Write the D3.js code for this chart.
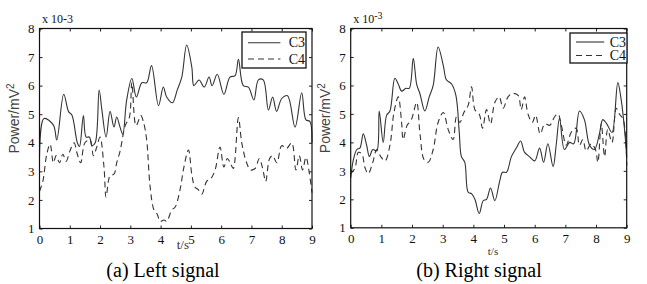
<!DOCTYPE html>
<html><head><meta charset="utf-8">
<script src="https://cdn.jsdelivr.net/npm/d3@7"></script>
<style>body{margin:0;background:#fff;}svg{display:block;}</style>
</head><body>
<svg id="c" width="647" height="284"></svg>
<script>
// ---- data ----
const xTicks = [0,1,2,3,4,5,6,7,8,9];
const yTicks = [1,2,3,4,5,6,7,8];
const seriesNames = ["C3","C4"];
const captions = ["(a) Left signal","(b) Right signal"];

const leftC3 = [[0,3.5],[0.15,4.85],[0.46,4.62],[0.57,4.1],[0.8,5.7],[0.96,5.09],[1.07,4.97],[1.25,4.0],[1.32,3.87],[1.45,4.95],[1.54,4.2],[1.65,4.2],[1.73,3.9],[1.84,4.0],[1.97,5.85],[2.06,5.15],[2.2,4.2],[2.33,5.1],[2.46,4.55],[2.55,4.9],[2.66,4.55],[2.75,4.3],[2.88,5.5],[3.05,6.25],[3.2,5.6],[3.38,6.1],[3.54,6.1],[3.7,6.7],[3.93,5.3],[4.09,5.95],[4.2,5.6],[4.39,5.4],[4.55,5.85],[4.7,6.3],[4.86,7.42],[5.03,6.65],[5.1,6.0],[5.27,6.2],[5.44,5.95],[5.6,6.3],[5.7,6.0],[5.87,6.4],[6.09,5.7],[6.29,6.3],[6.46,6.35],[6.57,6.92],[6.73,6.0],[6.9,5.95],[7.08,5.5],[7.23,6.2],[7.39,6.2],[7.56,5.15],[7.7,5.6],[7.83,5.1],[8.0,5.55],[8.19,5.65],[8.44,4.55],[8.66,5.75],[8.8,4.8],[8.93,4.75],[9,4.0]];
const leftC4 = [[0,2.3],[0.11,2.65],[0.24,3.6],[0.35,3.95],[0.46,3.3],[0.55,3.55],[0.66,3.3],[0.77,3.6],[0.88,3.35],[1.0,3.7],[1.14,4.0],[1.25,3.6],[1.36,3.3],[1.5,4.0],[1.67,4.1],[1.78,3.55],[1.89,3.85],[2.0,4.2],[2.13,3.15],[2.2,2.1],[2.33,2.85],[2.46,2.9],[2.55,3.3],[2.66,3.7],[2.83,4.6],[2.97,4.9],[3.05,6.1],[3.19,4.6],[3.35,4.95],[3.44,4.7],[3.54,4.1],[3.65,2.5],[3.78,1.65],[3.89,1.5],[3.98,1.25],[4.11,1.3],[4.2,1.25],[4.37,1.65],[4.48,1.75],[4.64,2.35],[4.77,3.15],[4.92,3.75],[5.03,2.9],[5.13,2.45],[5.25,2.35],[5.36,2.2],[5.52,2.65],[5.66,2.75],[5.8,3.05],[5.96,3.85],[6.09,3.15],[6.2,3.45],[6.3,3.3],[6.4,3.1],[6.57,4.88],[6.68,4.0],[6.84,3.3],[6.97,3.05],[7.12,3.1],[7.26,3.45],[7.37,3.1],[7.47,2.65],[7.6,3.45],[7.7,3.55],[7.84,3.3],[8.0,3.9],[8.16,3.8],[8.33,4.0],[8.47,3.05],[8.58,3.55],[8.69,3.05],[8.8,3.5],[8.91,2.95],[9,2.25]];
const rightC3 = [[0,2.75],[0.09,3.4],[0.2,3.75],[0.3,3.8],[0.41,4.3],[0.52,3.9],[0.61,3.5],[0.72,3.75],[0.85,3.7],[0.93,5.1],[1.06,4.0],[1.17,4.95],[1.28,5.1],[1.44,6.25],[1.55,6.05],[1.66,5.8],[1.8,5.9],[1.91,5.9],[2.04,6.95],[2.15,6.05],[2.26,5.7],[2.42,5.1],[2.56,5.6],[2.69,6.0],[2.85,7.35],[3.02,6.7],[3.12,6.2],[3.29,6.05],[3.43,5.65],[3.54,4.35],[3.61,3.5],[3.72,3.3],[3.83,2.25],[3.94,2.2],[4.05,2.0],[4.19,1.5],[4.32,1.95],[4.43,2.0],[4.56,2.4],[4.7,1.95],[4.86,2.65],[4.95,2.95],[5.08,2.95],[5.24,3.5],[5.4,3.8],[5.54,4.05],[5.67,3.65],[5.83,3.5],[6.0,3.35],[6.16,3.8],[6.29,3.3],[6.43,3.95],[6.6,3.15],[6.7,3.9],[6.81,4.85],[6.97,3.75],[7.14,4.0],[7.27,3.95],[7.46,5.1],[7.62,4.8],[7.79,3.9],[7.95,3.75],[8.11,4.3],[8.22,4.8],[8.35,4.65],[8.52,4.35],[8.71,6.1],[8.82,5.5],[8.93,4.45],[9,3.5]];
const rightC4 = [[0,2.9],[0.14,3.1],[0.25,3.65],[0.36,3.6],[0.47,3.1],[0.57,2.9],[0.72,3.3],[0.85,3.75],[0.98,3.5],[1.12,3.35],[1.28,3.9],[1.41,5.05],[1.55,5.6],[1.66,4.7],[1.71,4.1],[1.84,4.6],[1.98,4.8],[2.15,5.4],[2.26,4.3],[2.39,3.4],[2.53,3.3],[2.69,3.75],[2.85,4.7],[3.02,5.05],[3.18,4.45],[3.34,4.1],[3.45,4.9],[3.56,4.7],[3.69,5.05],[3.83,5.3],[3.94,5.95],[4.05,5.15],[4.19,5.0],[4.3,4.5],[4.43,5.15],[4.56,4.65],[4.7,5.4],[4.84,5.6],[4.97,5.2],[5.13,5.6],[5.27,5.72],[5.46,5.65],[5.56,5.15],[5.67,5.6],[5.78,5.0],[5.92,4.7],[6.03,4.95],[6.18,4.3],[6.33,4.65],[6.49,4.6],[6.65,4.9],[6.76,5.0],[6.87,4.6],[7.03,3.9],[7.19,4.35],[7.35,4.5],[7.46,3.9],[7.57,4.1],[7.68,3.7],[7.84,3.95],[7.98,3.75],[8.06,3.3],[8.17,4.65],[8.28,3.5],[8.38,4.45],[8.52,4.0],[8.66,5.2],[8.76,5.0],[8.89,4.8],[9,3.2]];

const panels = [
  {c3:leftC3, c4:leftC4, x0:39.5, x1:312, y0:28.5, y1:228.5, sup:false,
   legend:{x:242,y:32,w:64,h:36}, tsx:189, tsy:249, tsSize:13, tsAnchor:"end", caption:captions[0], capx:163},
  {c3:rightC3, c4:rightC4, x0:350.7, x1:626.7, y0:28.5, y1:227.8, sup:true,
   legend:{x:570,y:33,w:57,h:30}, tsx:493, tsy:255, tsSize:11, tsAnchor:"middle", caption:captions[1], capx:479}
];

const svg = d3.select("#c");
const serif = "Liberation Serif";
const sans = "Liberation Sans";

panels.forEach((p,i)=>{
  const x = d3.scaleLinear().domain([0,9]).range([p.x0,p.x1]);
  const y = d3.scaleLinear().domain([1,8]).range([p.y1,p.y0]);
  const g = svg.append("g");

  // curves
  const line = d3.line().x(d=>x(d[0])).y(d=>y(d[1])).curve(d3.curveCatmullRom.alpha(0.5));
  g.append("path").attr("d", line(p.c3)).attr("fill","none").attr("stroke","#333").attr("stroke-width",1.1);
  g.append("path").attr("d", line(p.c4)).attr("fill","none").attr("stroke","#333").attr("stroke-width",1.1).attr("stroke-dasharray","6,4");

  // axes (inward ticks, MATLAB box)
  const ax = (axis, tr) => g.append("g").attr("transform",tr).call(axis)
     .call(s=>s.select(".domain").remove());
  ax(d3.axisBottom(x).tickValues(xTicks).tickSize(-3).tickPadding(6).tickFormat(d3.format("d")), `translate(0,${p.y1})`);
  ax(d3.axisTop(x).tickValues(xTicks).tickSize(-3).tickFormat(""), `translate(0,${p.y0})`);
  ax(d3.axisLeft(y).tickValues(yTicks).tickSize(-3).tickPadding(5).tickFormat(d3.format("d")), `translate(${p.x0},0)`);
  ax(d3.axisRight(y).tickValues(yTicks).tickSize(-3).tickFormat(""), `translate(${p.x1},0)`);
  g.selectAll("g").attr("font-family",serif);
  g.selectAll(".tick line").attr("stroke","#222");
  g.selectAll(".tick text").style("font-family",serif).attr("font-size",13).attr("fill","#111");
  g.append("rect").attr("x",p.x0).attr("y",p.y0).attr("width",p.x1-p.x0).attr("height",p.y1-p.y0)
    .attr("fill","none").attr("stroke","#111").attr("stroke-width",1.2);

  // multiplier
  const m = g.append("text").attr("x",p.x0+2.5).attr("y",p.y0-6).style("font-family",serif).attr("font-size",12).attr("fill","#111");
  if (p.sup) { m.text("x 10"); m.append("tspan").attr("dy",-4).attr("font-size",10).text("-3"); }
  else { m.text("x 10-3"); }

  // y label
  const yl = g.append("text").attr("transform",`translate(${p.x0-21},${(p.y0+p.y1)/2 - 10}) rotate(-90)`)
    .attr("text-anchor","middle").style("font-family",sans).attr("font-size",14).attr("fill","#444").text("Power/mV");
  yl.append("tspan").attr("dy",-5).attr("font-size",10).text("2");

  // x label
  g.append("text").attr("x",p.tsx).attr("y",p.tsy).attr("text-anchor",p.tsAnchor).style("font-family",serif)
    .attr("font-size",p.tsSize).attr("fill","#333").text("t/s");

  // legend
  const L = p.legend;
  const lg = g.append("g");
  lg.append("rect").attr("x",L.x).attr("y",L.y).attr("width",L.w).attr("height",L.h).attr("fill","#fff").attr("stroke","#111").attr("stroke-width",1.3);
  seriesNames.forEach((n,k)=>{
    const ly = L.y + L.h*(k===0?0.3:0.75);
    lg.append("line").attr("x1",L.x+6).attr("x2",L.x+L.w*0.6).attr("y1",ly).attr("y2",ly)
      .attr("stroke","#333").attr("stroke-width",1.1).attr("stroke-dasharray",k===0?null:"6,4");
    lg.append("text").attr("x",L.x+L.w-1).attr("y",ly+4.5).attr("text-anchor","end").style("font-family",serif)
      .attr("font-size",14).attr("fill","#111").text(n);
  });

  // caption
  svg.append("text").attr("x",p.capx).attr("y",277).attr("text-anchor","middle").style("font-family",serif)
    .attr("font-size",20).attr("fill","#000").text(p.caption);
});
</script>
</body></html>
